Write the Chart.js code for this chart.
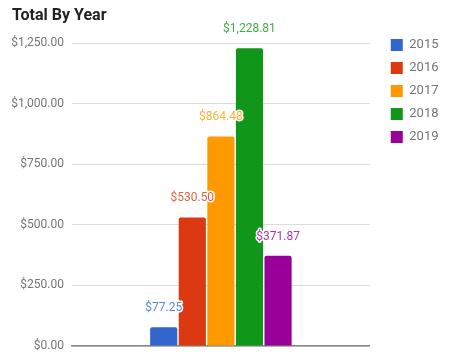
<!DOCTYPE html>
<html>
<head>
<meta charset="utf-8">
<script src="https://cdn.jsdelivr.net/npm/chart.js@4"></script>
<style>
  html, body { margin: 0; padding: 0; background: #fff; }
  #wrap { width: 451px; height: 359px; }
</style>
</head>
<body>
<div id="wrap"><canvas id="my-chart"></canvas></div>
<script>
const years = ['2015', '2016', '2017', '2018', '2019'];
const totals = [77.25, 530.50, 864.48, 1228.81, 371.87];
const yearColors = ['#3366cc', '#dc3912', '#ff9900', '#109618', '#990099'];
const yTicks = [0, 250, 500, 750, 1000, 1250];

function money(v) {
  return '$' + v.toLocaleString('en-US', {minimumFractionDigits: 2, maximumFractionDigits: 2});
}

// value labels above each bar, coloured like the bar, with a white halo
const barLabels = {
  id: 'barLabels',
  afterDatasetsDraw(chart) {
    const ctx = chart.ctx;
    ctx.save();
    ctx.font = '12px Roboto';
    ctx.textAlign = 'center';
    ctx.textBaseline = 'middle';
    ctx.lineJoin = 'round';
    chart.data.datasets.forEach((ds, i) => {
      const bar = chart.getDatasetMeta(i).data[0];
      const text = money(ds.data[0]);
      ctx.globalAlpha = 1;
      ctx.lineWidth = 3;
      ctx.strokeStyle = '#fff';
      ctx.strokeText(text, bar.x, bar.y - 19);
      ctx.globalAlpha = 0.8;
      ctx.fillStyle = ds.backgroundColor;
      ctx.fillText(text, bar.x, bar.y - 19);
    });
    ctx.restore();
  }
};

// nudge the legend so it sits level with the top gridline
const legendNudge = {
  id: 'legendNudge',
  afterLayout(chart) {
    const lg = chart.legend;
    lg.left += 11; lg.right += 11;
    lg.top += 28.5; lg.bottom += 28.5;
  }
};

const ctx = document.getElementById('my-chart').getContext('2d');
const chart = new Chart(ctx, {
  type: 'bar',
  data: {
    labels: [''],
    datasets: years.map((y, i) => ({
      label: y,
      data: [totals[i]],
      backgroundColor: yearColors[i],
      borderWidth: 0,
      borderRadius: 2
    }))
  },
  options: {
    responsive: true,
    maintainAspectRatio: false,
    animation: false,
    categoryPercentage: 0.48,
    barPercentage: 0.95,
    layout: { padding: { left: 12, right: 13.5, top: 0, bottom: 13 } },
    plugins: {
      title: {
        display: true,
        text: 'Total By Year',
        align: 'start',
        color: '#222',
        font: { family: 'Roboto', size: 16, weight: 'bold' },
        padding: { top: 6, bottom: 17.8 }
      },
      legend: {
        position: 'right',
        align: 'start',
        labels: {
          boxWidth: 12,
          boxHeight: 12,
          padding: 10,
          color: '#757575',
          font: { family: 'Roboto', size: 13 }
        }
      },
      tooltip: { enabled: false }
    },
    scales: {
      x: {
        grid: { display: false },
        ticks: { display: false },
        border: { display: true, color: '#888', width: 1.5 },
        afterFit: axis => { axis.height = 0; }
      },
      y: {
        min: 0,
        max: 1250,
        afterBuildTicks: axis => { axis.ticks = yTicks.map(v => ({value: v})); },
        afterFit: axis => { axis.width = 60; axis.paddingBottom = 0; },
        grid: { color: '#dcdcdc', drawTicks: false },
        border: { display: false },
        ticks: {
          padding: 8,
          color: '#757575',
          font: { family: 'Roboto', size: 12 },
          callback: v => money(v)
        }
      }
    }
  },
  plugins: [barLabels, legendNudge]
});
</script>
</body>
</html>
